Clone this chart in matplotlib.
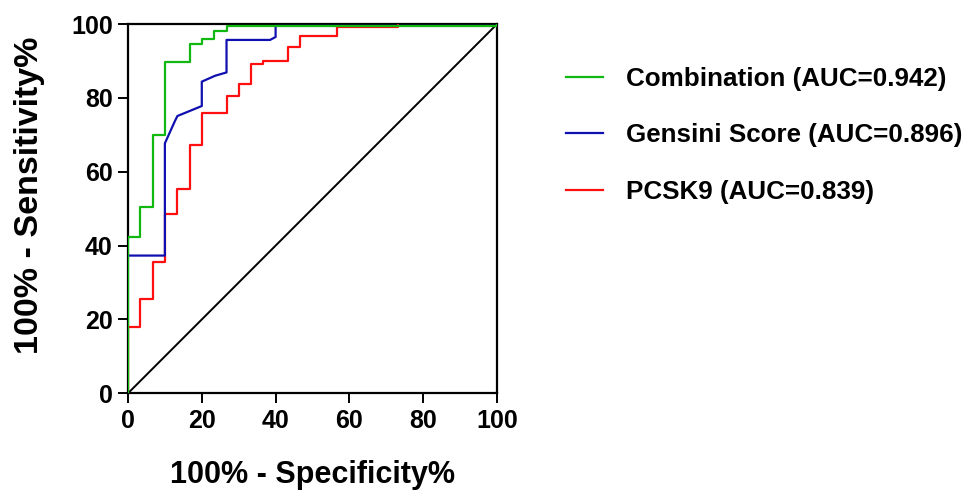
import matplotlib
matplotlib.use("Agg")
import matplotlib.pyplot as plt

plt.rcParams["font.family"] = ["Liberation Sans", "DejaVu Sans"]
plt.rcParams["font.weight"] = "bold"

# ROC curves: x = 100% - specificity, y = sensitivity
comb_x = [0, 0, 3.3, 3.3, 6.7, 6.7, 10, 10, 16.7, 16.7, 20, 20, 23.3, 23.3, 26.7, 26.7, 100, 100]
comb_y = [0, 42.2, 42.2, 50.4, 50.4, 70, 70, 89.6, 89.6, 94.6, 94.6, 95.9, 95.9, 98.2, 98.2, 99.5, 99.5, 100]

gens_x = [0, 10, 10, 12.7, 13.4, 20, 20, 23.6, 26.7, 26.7, 38.5, 40, 40, 100, 100]
gens_y = [37.3, 37.3, 67.7, 73.7, 75.1, 77.8, 84.4, 86.0, 86.9, 95.7, 95.7, 96.5, 99.5, 99.5, 100]

pcsk_x = [0, 0, 3.3, 3.3, 6.7, 6.7, 10, 10, 13.3, 13.3, 16.7, 16.7, 20, 20, 26.7, 26.7,
          30, 30, 33.3, 33.3, 36.7, 36.7, 43.3, 43.3, 46.7, 46.7, 56.7, 56.7, 73.3, 73.3]
pcsk_y = [0, 18.0, 18.0, 25.5, 25.5, 35.5, 35.5, 48.5, 48.5, 55.3, 55.3, 67.3, 67.3, 76.0, 76.0, 80.5,
          80.5, 83.7, 83.7, 89.2, 89.2, 90.1, 90.1, 93.7, 93.7, 96.8, 96.8, 99.3, 99.3, 100]

labels = ["Combination (AUC=0.942)", "Gensini Score (AUC=0.896)", "PCSK9 (AUC=0.839)"]
colors = ["#12B812", "#1010B0", "#FF1010"]

fig = plt.figure(figsize=(9.74, 4.91), dpi=100)
ax = fig.add_axes([0.1314, 0.199, 0.3789, 0.752])

ax.plot([0, 100], [0, 100], color="black", lw=1.4, zorder=2)
ax.plot(pcsk_x, pcsk_y, color=colors[2], lw=1.6, label=labels[2], zorder=3)
ax.plot(gens_x, gens_y, color=colors[1], lw=1.6, label=labels[1], zorder=4)
ax.plot(comb_x, comb_y, color=colors[0], lw=1.6, label=labels[0], zorder=5)

ax.set_xlim(0, 100)
ax.set_ylim(0, 100)
ax.set_xticks(range(0, 101, 20))
ax.set_yticks(range(0, 101, 20))
ax.tick_params(direction="out", length=7, width=1.4, labelsize=18, pad=4)
for s in ax.spines.values():
    s.set_linewidth(1.6)
    s.set_color("black")
ax.set_xlabel("100% - Specificity%", fontsize=22, fontweight="bold", labelpad=20)
ax.set_ylabel("100% - Sensitivity%", fontsize=24.5, fontweight="bold")
ax.yaxis.set_label_coords(-0.226, 0.537)

h, l = ax.get_legend_handles_labels()
order = [2, 1, 0]
fig.legend([h[i] for i in order], [l[i] for i in order],
           loc="upper left", bbox_to_anchor=(0.570, 0.885), frameon=False,
           fontsize=18.7, handlelength=1.45, handletextpad=0.88, labelspacing=1.25,
           borderaxespad=0)

fig.savefig("out.png", dpi=100)
